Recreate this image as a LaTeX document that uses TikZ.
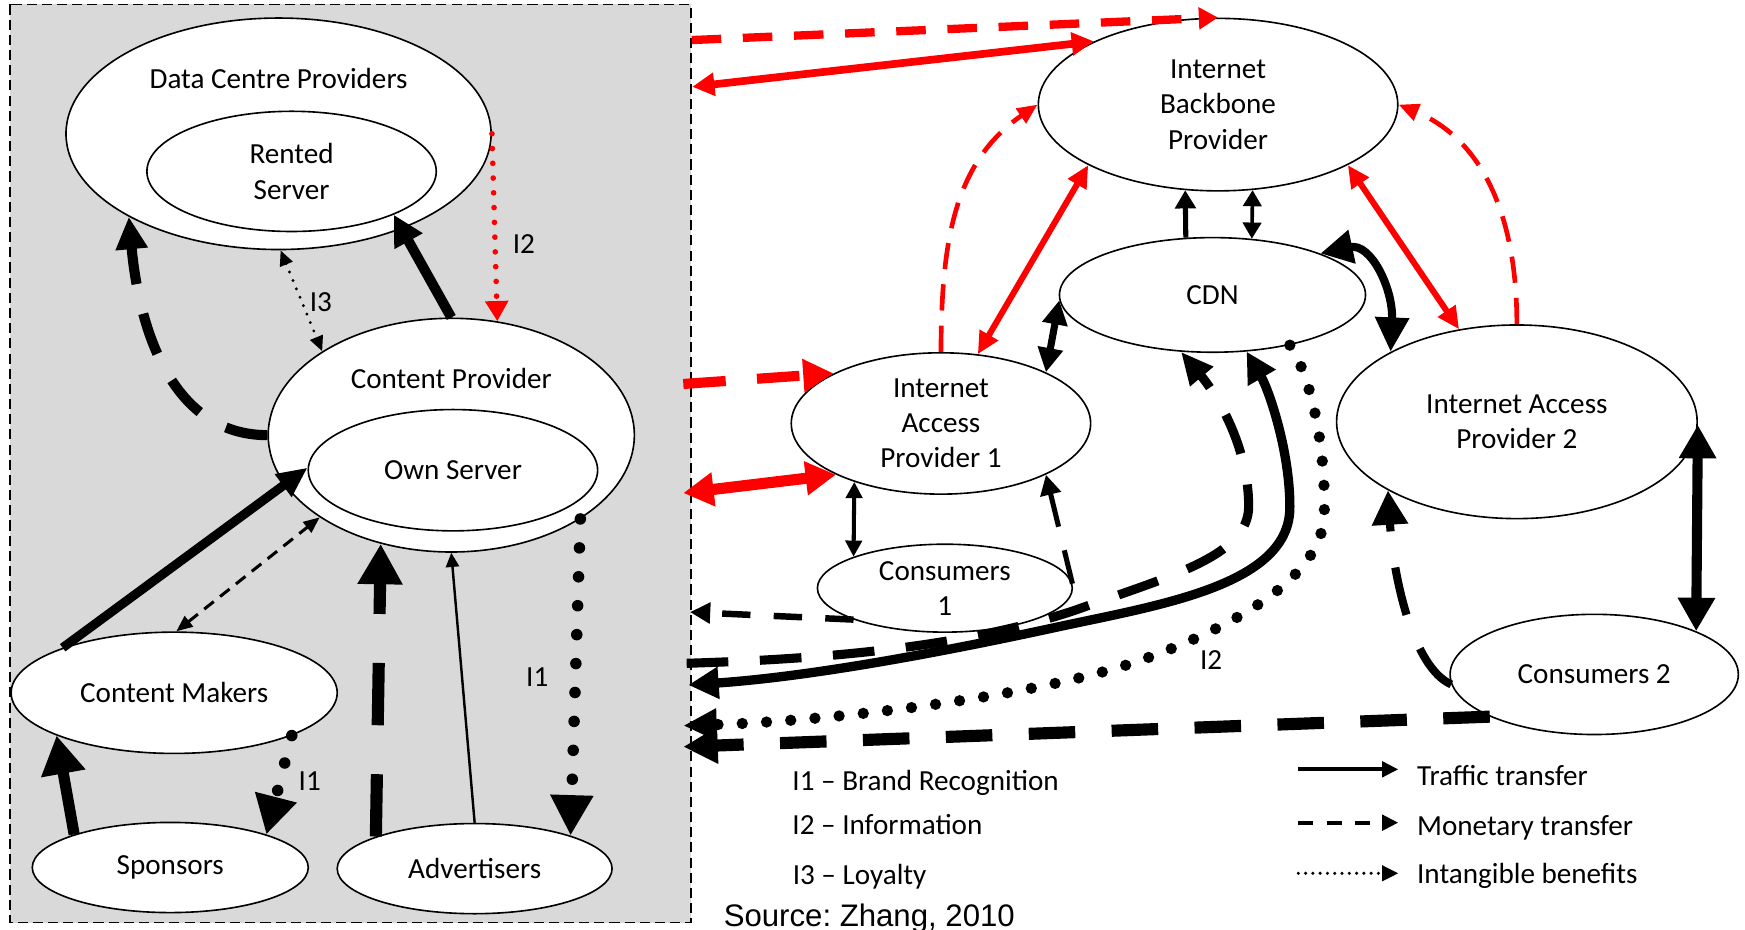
\documentclass[tikz,border=0pt]{standalone}
\usepackage{fontspec}
\setmainfont{Carlito}
\newfontfamily\srcfont{Liberation Sans}
\usetikzlibrary{shapes.geometric,arrows.meta}
\definecolor{panelgray}{RGB}{217,217,217}
\definecolor{flowred}{RGB}{255,0,0}
\frenchspacing
\begin{document}
\begin{tikzpicture}[x=0.55pt, y=-0.55pt,
  font=\fontsize{14.4pt}{17.4pt}\selectfont,
  ell/.style={draw, ellipse, fill=white, line width=0.8pt, inner sep=0pt, align=center},
  sz/.style 2 args={minimum width=#1*0.55pt, minimum height=#2*0.55pt},
  lbl/.style={inner sep=0pt, anchor=base west},
  ctr/.style={inner sep=0pt, anchor=base},
  dotline/.style 2 args={line width=#1, line cap=round, dash pattern=on 0pt off #2},
]
\useasboundingbox (0,0) rectangle (1568,835);

% shaded panel of the content side
\draw[line width=0.7pt, dash pattern=on 5pt off 2.5pt, fill=panelgray] (9,4) rectangle (621,829);

% actors
\node[ell, sz={382}{208}] (dcp) at (250.3,120.2) {};
\node[ell, sz={260}{108}] (rs) at (262,154) {Rented\\Server};
\node[ctr] (dcpt) at (250.3,79.4) {Data Centre Providers};
\node[ell, sz={329}{210}] (cp) at (405.5,391) {};
\node[ell, sz={260}{109}] (os) at (407,422.5) {Own Server};
\node[ctr] (cpt) at (405.5,349) {Content Provider};
\node[ell, sz={293}{109}] (cm) at (156.5,622.5) {Content Makers};
\node[ell, sz={248}{81}] (sp) at (153,779.5) {Sponsors};
\node[ell, sz={247}{81}] (ad) at (426.5,780.5) {Advertisers};
\node[ell, sz={323}{155}] (ibp) at (1094.5,94) {Internet\\Backbone\\Provider};
\node[ell, sz={275}{103}] (cdn) at (1089.5,265) {CDN};
\node[ell, sz={269}{127}] (iap1) at (845.5,380.5) {Internet\\Access\\Provider 1};
\node[ell, sz={324}{174}] (iap2) at (1363,379) {Internet Access\\Provider 2};
\node[ell, sz={229}{79}] (c1) at (849,528.5) {Consumers\\1};
\node[ell, sz={259}{108}] (c2) at (1432.5,606) {Consumers 2};

% free ends on the panel edge
\coordinate (fl) at (621.5,36);
\coordinate (fm) at (622,78);
\coordinate (fn) at (614,345);
\coordinate (fo) at (614,443);
\coordinate (fz) at (620,550);
\coordinate (faa) at (617,596);
\coordinate (fbb) at (618.5,615.5);
\coordinate (fcc) at (614,652);
\coordinate (fdd) at (614,671);

% ---- flows inside the panel
\draw[line width=5pt, -{Triangle[length=15pt,width=15pt]}] (cp.90) -- (rs.-23);
\draw[line width=5pt, dash pattern=on 21pt off 15pt, -{Triangle[length=16pt,width=15pt]}]
  (cp.180) .. controls (150,391) and (124,286) .. (dcp.209);
\draw[dotline={1.6pt}{4.5pt}, {Triangle[length=7.5pt,width=6.5pt]}-{Triangle[length=7.5pt,width=6.5pt]}]
  (dcp.-89) -- (cp.147);
\node[lbl] (li3) at (278,280) {I3};
\draw[flowred, dotline={2.8pt}{7.3pt}, -{Triangle[length=10pt,width=11pt]}] (dcp.0) -- (cp.68);
\node[lbl] (li2a) at (460.5,227.6) {I2};
\draw[line width=4.5pt, -{Triangle[length=15pt,width=13pt]}] (cm.158) -- (os.179);
\draw[line width=1.5pt, dash pattern=on 6pt off 4pt, {Triangle[length=8pt,width=6.5pt]}-{Triangle[length=8pt,width=6.5pt]}]
  (cm.88) -- (cp.212.6);
\draw[line width=6pt, dash pattern=on 30.8pt off 24.2pt, -{Triangle[length=20pt,width=21pt]}] (ad.162) -- (cp.237.6);
\draw[line width=1.2pt, -{Triangle[length=7pt,width=6.5pt]}] (ad.90) -- (cp.-90);
\draw[dotline={5.7pt}{14.3pt}, -{Triangle[length=20pt,width=20pt]}] (cp.-33) -- (ad.19);
\node[lbl] (li1a) at (472.5,617) {I1};
\draw[line width=5.5pt, -{Triangle[length=19pt,width=21pt]}] (sp.161) -- (cm.200.7);
\draw[dotline={5.7pt}{14pt}, -{Triangle[length=19pt,width=20pt]}] (cm.-20) -- (sp.19);
\node[lbl] (li1b) at (268,710) {I1};

% ---- flows of the network side
\draw[flowred, line width=4.1pt, dash pattern=on 14.6pt off 10.7pt, -{Triangle[length=9.5pt,width=10.5pt]}] (fl) -- (ibp.90);
\draw[flowred, line width=3.8pt, {Triangle[length=11pt,width=11pt]}-{Triangle[length=11pt,width=11pt]}] (fm) -- (ibp.153.9);
\draw[flowred, line width=5pt, dash pattern=on 21pt off 15.5pt, -{Triangle[length=15pt,width=15.5pt]}] (fn) -- (iap1.155.5);
\draw[flowred, line width=5.5pt, {Triangle[length=15pt,width=16pt]}-{Triangle[length=15pt,width=16pt]}] (fo) -- (iap1.206);
\draw[flowred, line width=2.3pt, dash pattern=on 13pt off 7.5pt, -{Triangle[length=10pt,width=8.5pt]}]
  (iap1.90) .. controls (846,223) and (855,147) .. (ibp.180);
\draw[flowred, line width=3pt, {Triangle[length=11pt,width=10pt]}-{Triangle[length=11pt,width=10pt]}] (iap1.62.5) -- (ibp.205.9);
\draw[line width=2.5pt, -{Triangle[length=9pt,width=10pt]}] (cdn.115.6) -- (ibp.-111);
\draw[line width=1.8pt, {Triangle[length=8pt,width=9pt]}-{Triangle[length=8pt,width=9pt]}] (ibp.-68.8) -- (cdn.55.6);
\draw[flowred, line width=3pt, {Triangle[length=11pt,width=10pt]}-{Triangle[length=11pt,width=10pt]}] (ibp.-25.7) -- (iap2.122.5);
\draw[flowred, line width=2.3pt, dash pattern=on 13pt off 7.5pt, -{Triangle[length=10pt,width=8.5pt]}]
  (iap2.90) .. controls (1363,192) and (1331,125) .. (ibp.0);
\draw[line width=4pt, {Triangle[length=16pt,width=16pt]}-{Triangle[length=17pt,width=16pt]}]
  (cdn.21) .. controls (1232,218) and (1252,260) .. (iap2.151);
\draw[line width=3.5pt, {Triangle[length=12pt,width=12pt]}-{Triangle[length=12pt,width=12pt]}] (cdn.182) -- (iap1.26);
\draw[line width=2pt, {Triangle[length=8pt,width=8pt]}-{Triangle[length=8pt,width=8pt]}] (iap1.214) -- (c1.161);
\draw[line width=2.5pt, dash pattern=on 17pt off 12pt, -{Triangle[length=10pt,width=10pt]}] (c1.2) -- (iap1.-26);
\draw[line width=3.2pt, dash pattern=on 14pt off 11.5pt, -{Triangle[length=10pt,width=10pt]}] (c1.199) -- (fz);
\draw[line width=4.5pt, dash pattern=on 20.6pt off 15.6pt, -{Triangle[length=16pt,width=14pt]}]
  (faa) .. controls (732,592.5) and (862.7,583) .. (967,548)
        .. controls (1050,518) and (1122,500) .. (1122,455)
        .. controls (1122,400) and (1092,352.8) .. (cdn.241);
\draw[line width=4.6pt, {Triangle[length=15pt,width=15pt]}-{Triangle[length=15pt,width=15pt]}]
  (fbb) .. controls (728,608) and (844.5,586.4) .. (952,563)
        .. controls (1045,543) and (1160,525) .. (1159,455)
        .. controls (1159,405) and (1140,350) .. (cdn.-59);
\draw[dotline={5.6pt}{12pt}, -{Triangle[length=16.5pt,width=15pt]}]
  (cdn.-33) .. controls (1178,338) and (1191,400) .. (1190,460)
            .. controls (1190,520) and (1105,564) .. (1030,591.5)
            .. controls (936,626) and (744,648) .. (fcc);
\node[lbl] (li2b) at (1078,602) {I2};
\draw[line width=6pt, dash pattern=on 23pt off 18pt, -{Triangle[length=17pt,width=17pt]}] (c2.202.3) -- (fdd);
\draw[line width=4pt, dash pattern=on 24pt off 18pt, -{Triangle[length=17pt,width=17pt]}]
  (c2.184) .. controls (1270,600) and (1252,520) .. (iap2.208.2);
\draw[line width=5pt, {Triangle[length=16.5pt,width=17.5pt]}-{Triangle[length=16.5pt,width=17.5pt]}] (iap2.-1) -- (c2.23);

% ---- key
\node[lbl] (k1) at (711.7,709.9) {I1 – Brand Recognition};
\node[lbl] (k2) at (711.7,749.4) {I2 – Information};
\node[lbl] (k3) at (712,795) {I3 – Loyalty};
\coordinate (ta) at (1166.6,691.3);
\coordinate (tb) at (1256.5,691.3);
\coordinate (ma) at (1166.6,739.2);
\coordinate (mb) at (1256.5,739.2);
\coordinate (ia) at (1166.6,784.7);
\coordinate (ib) at (1256.5,784.7);
\draw[line width=2pt, -{Triangle[length=8pt,width=7.5pt]}] (ta) -- (tb);
\draw[line width=2pt, dash pattern=on 7.4pt off 6.6pt, -{Triangle[length=8pt,width=7.5pt]}] (ma) -- (mb);
\draw[dotline={1.7pt}{3.6pt}, -{Triangle[length=8pt,width=7.5pt]}] (ia) -- (ib);
\node[lbl] (kt) at (1273,705.4) {Traffic transfer};
\node[lbl] (km) at (1273,750.3) {Monetary transfer};
\node[lbl] (ki) at (1273,794.3) {Intangible benefits};

\node[lbl, font=\srcfont\fontsize{15.4pt}{18pt}\selectfont] (src) at (650,832.5) {Source: Zhang, 2010};
\end{tikzpicture}
\end{document}
